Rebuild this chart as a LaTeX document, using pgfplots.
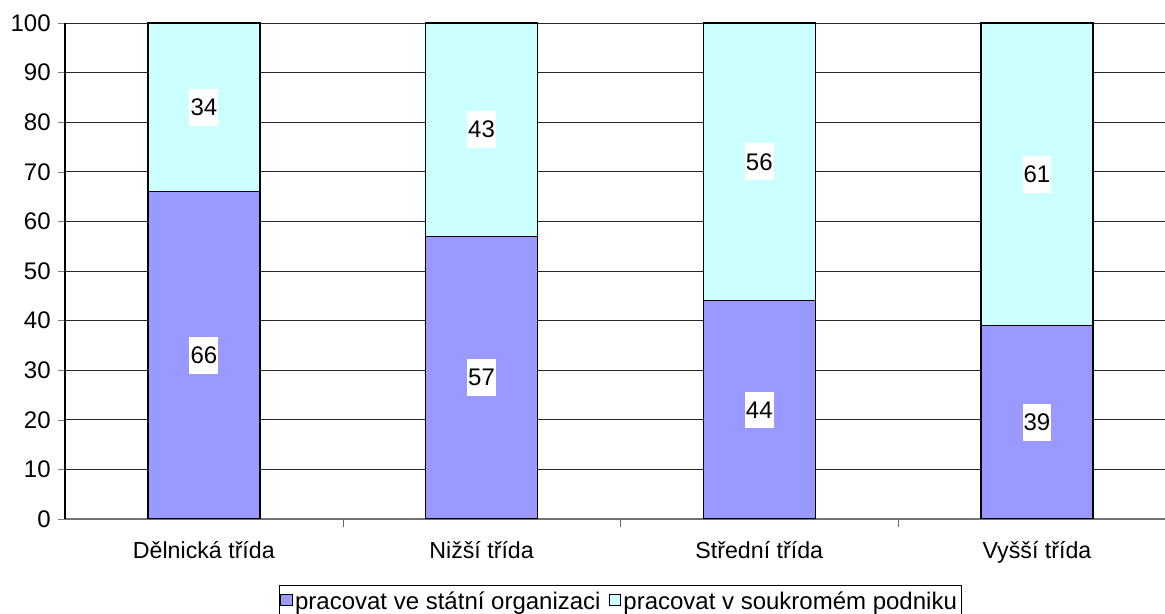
\documentclass[border=0pt]{standalone}
\usepackage{fontspec}
\setmainfont{Liberation Sans}
\usepackage{pgfplots}
\pgfplotsset{compat=1.18}
\definecolor{statni}{HTML}{9999FF}
\definecolor{soukrome}{HTML}{CCFFFF}

\begin{document}
\begin{tikzpicture}
% 1px = 0.75pt
\useasboundingbox (-48.75pt,-71.25pt) rectangle (825pt,389.25pt);
\begin{axis}[
    at={(0,0)}, anchor=south west,
    scale only axis,
    width=825pt, height=372pt,
    ybar stacked,
    bar width=84pt,
    xmin=-0.5, xmax=3.461,
    ymin=0, ymax=100,
    ytick={0,10,...,100},
    xtick={0,1,2,3},
    xticklabels={Dělnická třída, Nižší třída, Střední třída, Vyšší třída},
    minor xtick={0.5,1.5,2.5},
    major x tick style={draw=none},
    minor x tick style={black!60},
    tick align=outside,
    major tick length=5.25pt,
    minor tick length=6pt,
    axis x line*=bottom,
    axis y line*=left,
    x axis line style={black!55, line width=0.8pt},
    y axis line style={black, line width=0.8pt},
    ymajorgrids,
    grid style={black!85, line width=0.6pt},
    yticklabel style={font=\fontsize{18pt}{20pt}\selectfont, xshift=-2pt},
    xticklabel style={font=\fontsize{17.4pt}{20pt}\selectfont, yshift=-8pt},
    /pgf/number format/assume math mode=true,
    legend columns=2,
    legend style={at={(0.5045,-0.133)}, anchor=north, draw=black, line width=0.5pt,
        font=\fontsize{18pt}{20pt}\selectfont, inner xsep=1pt, inner ysep=3pt,
        /tikz/every even column/.append style={column sep=4pt}},
    legend image code/.code={\draw[#1, draw=black, line width=0.6pt] (0pt,-3pt) rectangle (8.5pt,5.5pt);},
    point meta=explicit,
    nodes near coords,
    every node near coord/.append style={anchor=center,
        fill=white, inner xsep=0.8pt, inner ysep=7.5pt, font=\fontsize{18pt}{20pt}\selectfont},
]
\addplot[fill=statni, draw=black, line width=1pt] coordinates {
    (0,66) [66]
    (1,57) [57]
    (2,44) [44]
    (3,39) [39]
};
\addplot[fill=soukrome, draw=black, line width=1pt] coordinates {
    (0,34) [34]
    (1,43) [43]
    (2,56) [56]
    (3,61) [61]
};
\legend{pracovat ve státní organizaci, pracovat v soukromém podniku}
\end{axis}
\end{tikzpicture}
\end{document}
